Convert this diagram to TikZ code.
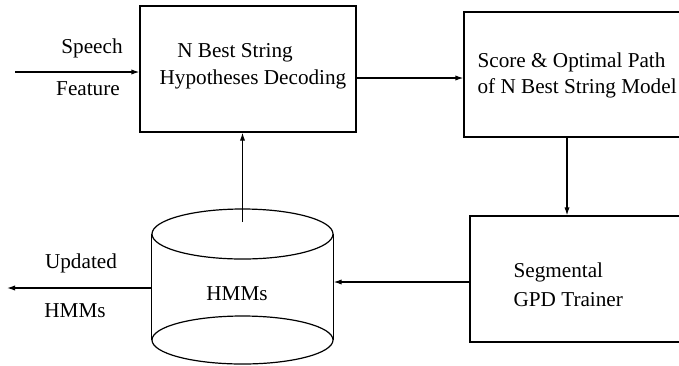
\documentclass[tikz,border=0pt]{standalone}
\usepackage{fontspec}
\setmainfont{Liberation Serif}
\usepackage{tikz}
\usetikzlibrary{arrows.meta}

\begin{document}
\begin{tikzpicture}[x=0.5pt, y=-0.5pt, line width=0.6pt,
        font=\fontsize{10.6}{13}\selectfont,
        blk/.style={draw, rectangle, inner sep=0pt},
        txt/.style={inner sep=0pt},
        arr/.style={-{Latex[length=4pt, width=2.6pt]}}]
    \useasboundingbox (0,0) rectangle (679,365);
    % 	boxes
        \node [blk, minimum width=108pt, minimum height=63pt] (dec) at (248,69) {};
        \node [blk, minimum width=108.5pt, minimum height=62.5pt] (score) at (572.5,74.5) {};
        \node [blk, minimum width=105.5pt, minimum height=63pt] (train) at (575.5,279) {};
        \node [txt, minimum width=90.5pt, minimum height=78pt] (hmm) at (242.5,287) {};
        \draw (hmm.west |- 0,234) -- (hmm.west |- 0,340);
        \draw (hmm.east |- 0,234) -- (hmm.east |- 0,340);
        \draw (242.5,234) ellipse [x radius=45.25pt, y radius=12.5pt];
        \draw (242.5,340) ellipse [x radius=45.25pt, y radius=12pt];
    % 	texts
        \node [txt] (decA) at (235,53) {N Best String};
        \node [txt] (decB) at (253,79) {Hypotheses Decoding};
        \node [txt, anchor=west, align=left] (scoreT) at (477,75) {Score \& Optimal Path\\of N Best String Model};
        \node [txt, anchor=west, align=left] (trainT) at (513,284.5) {Segmental\\[1.5pt]GPD Trainer};
        \node [txt] (hmmT) at (237,294) {HMMs};
        \node [txt] (speech) at (92,48) {Speech};
        \node [txt] (feature) at (88,89) {Feature};
        \node [txt] (updated) at (81,263) {Updated};
        \node [txt] (hmmOut) at (75,311) {HMMs};
    % 	connectors
        \coordinate (src) at (15,72);
        \coordinate (sink) at (7,288);
        \coordinate (hmmtop) at (242.5,222);
        \draw [arr] (src) -- (dec.west |- src);
        \draw [arr] (dec.east |- 0,78) -- (score.west |- 0,78);
        \draw [arr] (score.south -| 567,0) -- (train.north -| 567,0);
        \draw [arr] (train.west |- 0,282) -- (hmm.east |- 0,282);
        \draw [arr] (hmmtop) -- (dec.south -| hmmtop);
        \draw [arr] (hmm.west |- sink) -- (sink);
    \end{tikzpicture}
\end{document}
